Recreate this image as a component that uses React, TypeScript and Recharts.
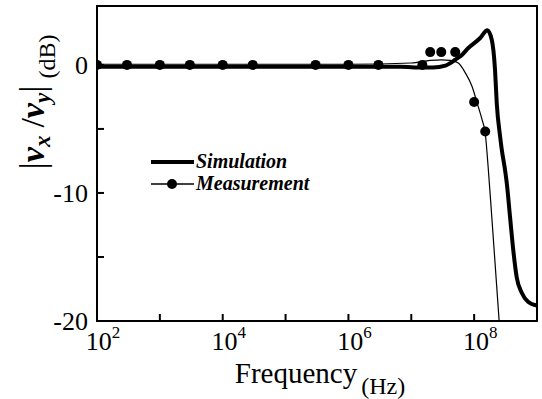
import React from 'react'
import { ComposedChart, Line, XAxis, YAxis, ReferenceArea, Legend } from 'recharts'

// frequency axis (Hz), log scale
const decadeTicks = [1e2, 1e3, 1e4, 1e5, 1e6, 1e7, 1e8, 1e9]
const dbTicks = [-20, -15, -10, -5, 0]
const dbTop = 4.6

// simulation (thick curve)
const simFreq = [1e2, 1e4, 1e6, 6.7e6, 1.5e7, 2.2e7, 3.5e7, 5e7, 6.45e7, 8e7, 1.25e8, 1.62e8, 1.91e8, 2.15e8, 2.29e8, 2.59e8, 2.75e8, 3.1e8, 3.3e8, 3.73e8, 4.2e8, 4.76e8, 5.72e8, 7.2e8, 1e9]
const simDb = [-0.15, -0.15, -0.15, -0.15, -0.2, -0.2, -0.05, 0.4, 0.8, 1.3, 2.1, 2.7, 1.95, -0.4, -3.0, -5.6, -6.6, -8.2, -9.2, -11.9, -14.5, -16.6, -17.8, -18.5, -18.8]

// measurement fit (thin curve)
const fitFreq = [1e2, 1e4, 1e6, 1e7, 2e7, 3e7, 4.2e7, 5.6e7, 7.2e7, 9.3e7, 1.12e8, 1.34e8, 1.5e8, 1.66e8, 1.91e8, 2.5e8]
const fitDb = [0.05, 0.05, 0.05, 0.15, 0.35, 0.4, 0.35, 0.15, -0.6, -1.7, -3.0, -4.3, -5.3, -7.8, -11.9, -20]

// measured points
const measFreq = [1e2, 3e2, 1e3, 3e3, 1e4, 3e4, 3e5, 1e6, 3e6, 1.5e7, 2e7, 3e7, 5e7, 1e8, 1.5e8]
const measDb = [0, 0, 0, 0, 0, 0, 0, 0, 0, 0, 1.0, 1.0, 1.0, -2.9, -5.2]

const simData = simFreq.map((f, i) => ({ f, db: simDb[i] }))
const fitData = fitFreq.map((f, i) => ({ f, db: fitDb[i] }))
const measData = measFreq.map((f, i) => ({ f, db: measDb[i] }))

const serif = '"Liberation Serif", "Times New Roman", serif'

function FreqTick(props: any) {
    const { x, y, payload } = props
    const exp = Math.round(Math.log10(payload.value))
    return (
        <g>
            <line x1={x} x2={x} y1={y} y2={y - 7} stroke="#000" strokeWidth={2} />
            {exp % 2 === 0 && exp < 9 && (
                <text x={x + 6} y={y + 29} textAnchor="middle" fontFamily={serif} fill="#000">
                    <tspan fontSize={26}>10</tspan>
                    <tspan fontSize={17} dy={-12}>{exp}</tspan>
                </text>
            )}
        </g>
    )
}

function DbTick(props: any) {
    const { x, y, payload } = props
    const v = payload.value
    return (
        <g>
            <line x1={x} x2={x + 7} y1={y} y2={y} stroke="#000" strokeWidth={2} />
            {v % 10 === 0 && (
                <text x={x - 9} y={y + 9} textAnchor="end" fontFamily={serif} fontSize={26} fill="#000">
                    {v}
                </text>
            )}
        </g>
    )
}

function FreqLabel(props: any) {
    const { x, y, width } = props.viewBox
    return (
        <text x={x + width / 2 + 3} y={y + 62} textAnchor="middle" fontFamily={serif} fill="#000">
            <tspan fontSize={29}>Frequency</tspan>
            <tspan fontSize={24} dx={4} dy={11}>(Hz)</tspan>
        </text>
    )
}

function DbLabel(props: any) {
    const { y } = props.viewBox
    const bi = { fontWeight: 'bold', fontStyle: 'italic' } as const
    return (
        <text transform={`translate(44, ${y + 96}) rotate(-90)`} textAnchor="middle" fontFamily={serif} fill="#000">
            <tspan fontSize={36}>|</tspan>
            <tspan fontSize={34} {...bi}>v</tspan>
            <tspan fontSize={23} {...bi} dy={6}>x</tspan>
            <tspan fontSize={34} dx={8} dy={-6}>/</tspan>
            <tspan fontSize={34} {...bi}>v</tspan>
            <tspan fontSize={23} {...bi} dy={6}>y</tspan>
            <tspan fontSize={36} dy={-6}>|</tspan>
            <tspan fontSize={24} dx={7} dy={11}>(dB)</tspan>
        </text>
    )
}

function LegendBox() {
    const txt = { fontFamily: serif, fontSize: 20, fontWeight: 'bold', fontStyle: 'italic', fill: '#000' } as const
    return (
        <svg width={220} height={50}>
            <line x1={11} x2={54} y1={14} y2={14} stroke="#000" strokeWidth={4} />
            <text x={56} y={20} {...txt}>Simulation</text>
            <line x1={11} x2={54} y1={36} y2={36} stroke="#000" strokeWidth={1.3} />
            <circle cx={32} cy={36} r={5} fill="#000" />
            <text x={56} y={42} {...txt}>Measurement</text>
        </svg>
    )
}

export default function App() {
    return (
        <div style={{ width: 542, height: 399, background: '#fff' }}>
            <style>{'body{margin:0;background:#fff}'}</style>
            <ComposedChart width={542} height={399} margin={{ top: 6, right: 5, bottom: 0, left: 0 }}>
                <XAxis
                    dataKey="f"
                    type="number"
                    scale="log"
                    domain={[1e2, 1e9]}
                    ticks={decadeTicks}
                    allowDataOverflow
                    height={78}
                    axisLine={false}
                    tickLine={false}
                    tickSize={0}
                    tickMargin={0}
                    tick={<FreqTick />}
                    interval={0}
                    label={(p: any) => <FreqLabel {...p} />}
                />
                <YAxis
                    type="number"
                    domain={[-20, dbTop]}
                    ticks={dbTicks}
                    allowDataOverflow
                    width={97}
                    axisLine={false}
                    tickLine={false}
                    tickSize={0}
                    tickMargin={0}
                    tick={<DbTick />}
                    interval={0}
                    label={(p: any) => <DbLabel {...p} />}
                />
                <ReferenceArea x1={1e2} x2={1e9} y1={-20} y2={dbTop} fill="none" stroke="#000" strokeWidth={2} ifOverflow="visible" />
                <Legend
                    layout="horizontal"
                    verticalAlign="middle"
                    align="center"
                    content={() => <LegendBox />}
                    wrapperStyle={{ left: 140, top: 148, width: 220, height: 50 }}
                />
                <Line data={fitData} dataKey="db" type="monotone" stroke="#000" strokeWidth={1.2} dot={false} isAnimationActive={false} legendType="none" />
                <Line data={simData} dataKey="db" type="monotone" stroke="#000" strokeWidth={4} dot={false} isAnimationActive={false} legendType="none" />
                <Line data={measData} dataKey="db" stroke="none" dot={{ r: 5, fill: '#000', stroke: 'none' }} isAnimationActive={false} legendType="none" />
            </ComposedChart>
        </div>
    )
}
